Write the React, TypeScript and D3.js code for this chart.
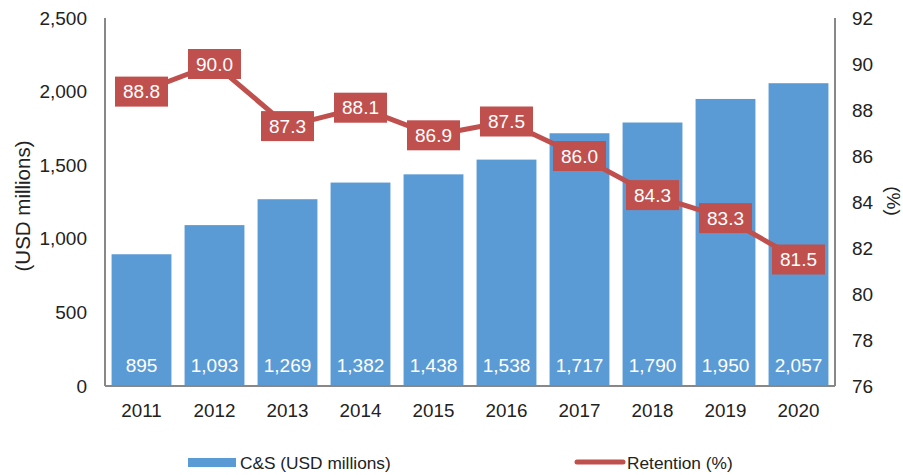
import * as d3 from "d3";
import React from "react";

const years = ["2011", "2012", "2013", "2014", "2015", "2016", "2017", "2018", "2019", "2020"];
const spending = [895, 1093, 1269, 1382, 1438, 1538, 1717, 1790, 1950, 2057];
const retention = [88.8, 90.0, 87.3, 88.1, 86.9, 87.5, 86.0, 84.3, 83.3, 81.5];
const leftTicks = [0, 500, 1000, 1500, 2000, 2500];
const rightTicks = [76, 78, 80, 82, 84, 86, 88, 90, 92];

const W = 903;
const H = 475;
const margin = { left: 105, right: 68, top: 18, bottom: 89 };
const font = "'Liberation Sans', Arial, sans-serif";
const blue = "#5B9BD5";
const red = "#C0504D";
const axisGray = "#888888";
const textColor = "#222222";

const App: React.FC = () => {
  const x0 = margin.left;
  const x1 = W - margin.right;
  const y0 = H - margin.bottom;
  const y1 = margin.top;

  const x = d3.scaleBand<string>().domain(years).range([x0, x1]).paddingInner(0.18).paddingOuter(0.09);
  const yL = d3.scaleLinear().domain([0, 2500]).range([y0, y1]);
  const yR = d3.scaleLinear().domain([76, 92]).range([y0, y1]);
  const cx = (yr: string) => (x(yr) ?? 0) + x.bandwidth() / 2;

  const line = d3
    .line<number>()
    .x((_, i) => cx(years[i]))
    .y((d) => yR(d));

  const fmt = d3.format(",");

  return (
    <svg width={W} height={H} style={{ position: "absolute", left: 0, top: 0 }} fontFamily={font}>
      <rect width={W} height={H} fill="#fff" />
      {years.map((yr, i) => (
        <rect
          key={yr}
          x={x(yr)}
          y={yL(spending[i])}
          width={x.bandwidth()}
          height={y0 - yL(spending[i])}
          fill={blue}
        />
      ))}
      {years.map((yr, i) => (
        <text key={"v" + yr} x={cx(yr)} y={365} fill="#fff" fontSize={19} textAnchor="middle" dominantBaseline="central">
          {fmt(spending[i])}
        </text>
      ))}

      <line x1={x0} x2={x0} y1={y1} y2={y0} stroke={axisGray} strokeWidth={2} />
      <line x1={x1} x2={x1} y1={y1} y2={y0} stroke={axisGray} strokeWidth={2} />
      <line x1={x0} x2={x1} y1={y0} y2={y0} stroke={axisGray} strokeWidth={2} />

      {leftTicks.map((t) => (
        <text key={"l" + t} x={87} y={yL(t)} fontSize={19} fill={textColor} textAnchor="end" dominantBaseline="central">
          {fmt(t)}
        </text>
      ))}
      {rightTicks.map((t) => (
        <text key={"r" + t} x={852} y={yR(t)} fontSize={19} fill={textColor} textAnchor="start" dominantBaseline="central">
          {t}
        </text>
      ))}
      {years.map((yr) => (
        <text key={"x" + yr} x={cx(yr)} y={410} fontSize={18.8} fill={textColor} textAnchor="middle" dominantBaseline="central">
          {yr}
        </text>
      ))}

      <text
        transform="translate(22,206) rotate(-90)"
        fontSize={20.5}
        fill={textColor}
        textAnchor="middle"
        dominantBaseline="central"
      >
        (USD millions)
      </text>
      <text
        transform="translate(893,201) rotate(90)"
        fontSize={19}
        fill={textColor}
        textAnchor="middle"
        dominantBaseline="central"
      >
        (%)
      </text>

      <path d={line(retention) ?? ""} fill="none" stroke={red} strokeWidth={5} />
      {years.map((yr, i) => (
        <g key={"p" + yr} transform={`translate(${cx(yr)},${yR(retention[i])})`}>
          <rect x={-26.5} y={-15} width={53} height={30} fill={red} />
          <text fontSize={19} fill="#fff" textAnchor="middle" dominantBaseline="central">
            {retention[i].toFixed(1)}
          </text>
        </g>
      ))}

      <rect x={188} y={458} width={48} height={9} fill={blue} />
      <text x={240} y={463} fontSize={17.3} fill={textColor} dominantBaseline="central">
        C&amp;S (USD millions)
      </text>
      <line x1={577} x2={623} y1={462} y2={462} stroke={red} strokeWidth={5} strokeLinecap="round" />
      <text x={627} y={463} fontSize={17.3} fill={textColor} dominantBaseline="central">
        Retention (%)
      </text>
    </svg>
  );
};

export default App;
